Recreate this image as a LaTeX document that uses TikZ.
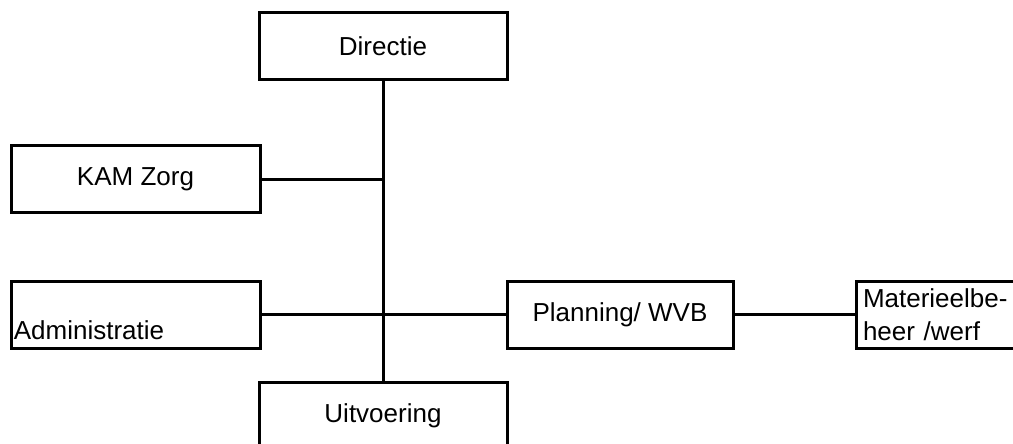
\documentclass[tikz,border=0pt]{standalone}
\usepackage{fontspec}
\setmainfont{Liberation Sans}
\begin{document}
\begin{tikzpicture}[x=0.5pt, y=-0.5pt,
  unit box/.style={draw=black, line width=1.5pt, minimum height=33.5pt,
    inner sep=0pt, font=\fontsize{13}{16.5}\selectfont},
  tree line/.style={draw=black, line width=1.5pt}]
\useasboundingbox (0,0) rectangle (1013,444);
% boxes
\node (Directie) [unit box, minimum width=124pt] at (383,46) {Directie};
\node (KAM) [unit box, minimum width=124.5pt] at (135.5,179.5) {KAM Zorg};
\node (Admin) [unit box, minimum width=124.5pt,
  label={[anchor=base west, inner sep=0pt, xshift=2pt, yshift=5pt,
    font=\fontsize{13}{16.5}\selectfont]south west:Administratie}]
  at (135.5,314.5) {};
\node (Planning) [unit box, minimum width=113pt] at (620,314.5) {Planning/ WVB};
\node (Materieel) [unit box, minimum width=100pt, text width=93pt, align=left,
  inner xsep=3.5pt] at (956,314.5) {Materieelbe-\\heer /werf};
\node (Uitvoering) [unit box, minimum width=124pt] at (383,415.5) {Uitvoering};
% lines
\draw[tree line] (Directie.south) -- (Uitvoering.north);
\draw[tree line] (KAM.east) -- (KAM.east -| Directie.south);
\draw[tree line] (Admin.east) -- (Planning.west);
\draw[tree line] (Planning.east) -- (Materieel.west);
\end{tikzpicture}
\end{document}
